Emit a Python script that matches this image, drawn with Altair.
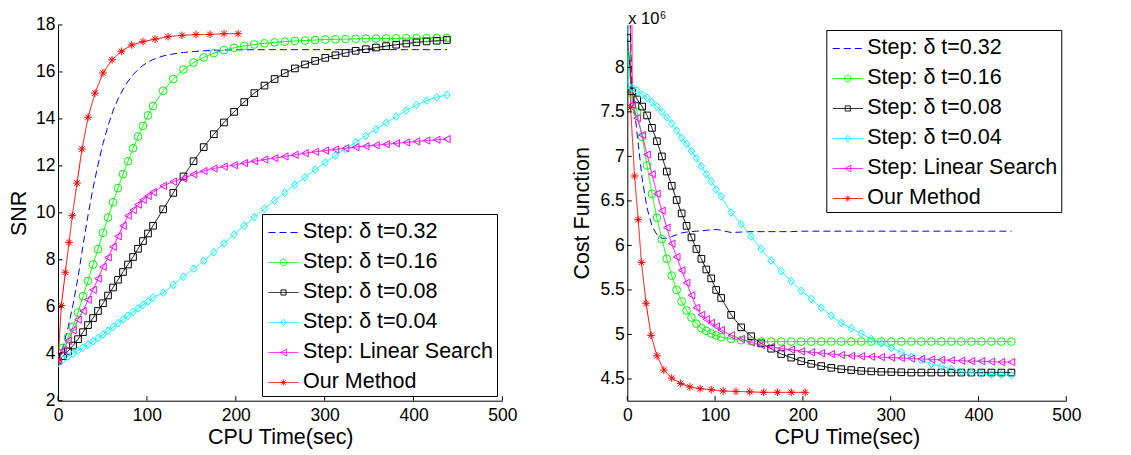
import altair as alt
import pandas as pd

F = "Liberation Sans"

NAMES = ["Step: δ t=0.32", "Step: δ t=0.16", "Step: δ t=0.08",
         "Step: δ t=0.04", "Step: Linear Search", "Our Method"]
COLORS = ["#0000ff", "#00ff00", "#000000", "#00ffff", "#ff00ff", "#ff0000"]
DASHES = [[7, 4], [1, 0], [1, 0], [1, 0], [1, 0], [1, 0]]

XTICKS = [0, 100, 200, 300, 400, 500]
SNR_TICKS = [2, 4, 6, 8, 10, 12, 14, 16, 18]
COST_TICKS = [4.5, 5, 5.5, 6, 6.5, 7, 7.5, 8]

# time stamps (sec) of the iterations
T_STEP = [0, 5.6, 11.25, 16.9, 22.5, 28.1, 33.75, 39.4, 45, 50.6, 56.25, 61.9,
          67.5, 73.1, 78.75, 84.4, 90, 95.6, 101.25, 106.9, 118.3, 129.7, 141.1,
          152.5, 163.9, 175.3, 186.7, 198.1, 209.5, 220.9, 232.3, 243.7, 255.1,
          266.5, 277.9, 289.3, 300.7, 312.1, 323.5, 334.9, 346.3, 357.7, 369.1,
          380.5, 391.9, 403.3, 414.7, 426.1, 437.5]
T_CYAN = [0, 0.8] + T_STEP[1:]
T_RED = [0, 3.75, 8.25, 12.4, 16.1, 21.4, 27, 33.8, 41.6, 50.6, 60.8, 71.3,
         82.9, 95.6, 109.2, 123.8, 139.5, 155.3, 171, 186.8, 202.6]

# SNR values
SNR_D32 = [3.7, 4.3, 5.1, 6.1, 7.25, 8.6, 9.9, 11.05, 12.05, 12.95, 13.7, 14.35,
           14.85, 15.25, 15.6, 15.88, 16.1, 16.28, 16.42, 16.53,
           16.68, 16.77, 16.83, 16.87, 16.9, 16.92, 16.93, 16.94, 16.94,
           16.95, 16.95, 16.95, 16.95, 16.95, 16.95, 16.95, 16.95, 16.95, 16.95,
           16.95, 16.95, 16.95, 16.95, 16.95, 16.95, 16.95, 16.95, 16.95, 16.95]
SNR_D16 = [3.7, 4.25, 4.7, 5.15, 5.75, 6.45, 7.1, 7.8, 8.45, 9.15, 9.8, 10.45,
           11.05, 11.65, 12.2, 12.75, 13.25, 13.7, 14.15, 14.55,
           15.2, 15.7, 16.1, 16.4, 16.62, 16.8, 16.93, 17.03, 17.11, 17.17,
           17.22, 17.26, 17.29, 17.32, 17.34, 17.36, 17.38, 17.39, 17.4, 17.41,
           17.42, 17.42, 17.43, 17.43, 17.44, 17.44, 17.44, 17.45, 17.45]
SNR_D08 = [3.7, 3.9, 4.1, 4.35, 4.62, 4.92, 5.22, 5.52, 5.82, 6.15, 6.48, 6.82,
           7.15, 7.48, 7.8, 8.12, 8.47, 8.8, 9.12, 9.45,
           10.15, 10.85, 11.55, 12.2, 12.8, 13.35, 13.85, 14.3, 14.72, 15.1,
           15.42, 15.7, 15.95, 16.15, 16.32, 16.47, 16.6, 16.71, 16.81, 16.9,
           16.97, 17.04, 17.1, 17.16, 17.21, 17.26, 17.3, 17.33, 17.36]
SNR_D04 = [3.6, 3.62, 3.75, 3.88, 4.0, 4.13, 4.26, 4.39, 4.53, 4.67, 4.82, 4.98,
           5.14, 5.3, 5.46, 5.62, 5.78, 5.93, 6.08, 6.23, 6.4,
           6.6, 6.93, 7.28, 7.62, 7.96, 8.32, 8.7, 9.08, 9.45, 9.82,
           10.18, 10.52, 10.86, 11.2, 11.52, 11.84, 12.14, 12.44, 12.72, 13.0,
           13.28, 13.56, 13.84, 14.1, 14.36, 14.6, 14.78, 14.92, 15.02]
SNR_LS = [3.7, 4.15, 4.55, 5.0, 5.45, 5.82, 6.3, 6.72, 7.2, 7.7, 8.1, 8.55,
          9.0, 9.45, 9.88, 10.12, 10.35, 10.55, 10.72, 10.88,
          11.15, 11.33, 11.46, 11.64, 11.78, 11.89, 11.97, 12.03, 12.12, 12.2,
          12.27, 12.33, 12.4, 12.47, 12.54, 12.6, 12.65, 12.7, 12.75, 12.8,
          12.84, 12.88, 12.92, 12.96, 13.0, 13.04, 13.08, 13.11, 13.14]
SNR_OURS = [3.7, 6.05, 7.47, 8.74, 9.88, 11.27, 12.72, 14.07, 15.1, 15.96, 16.52,
            16.88, 17.15, 17.29, 17.4, 17.5, 17.56, 17.59, 17.6, 17.63, 17.63]

# Cost function values (x 10^6)
COST_D32 = [9.5, 7.75, 7.25, 6.75, 6.42, 6.22, 6.12, 6.08, 6.08, 6.1, 6.12, 6.14,
            6.15, 6.155, 6.16, 6.165, 6.17, 6.175, 6.18, 6.17,
            6.145, 6.15, 6.155, 6.155, 6.155, 6.155, 6.155, 6.16, 6.16, 6.16,
            6.16, 6.16, 6.16, 6.16, 6.16, 6.16, 6.16, 6.16, 6.16, 6.16,
            6.16, 6.16, 6.16, 6.16, 6.16, 6.16, 6.16, 6.16, 6.16]
COST_D16 = [8.13, 7.7, 7.5, 7.22, 6.9, 6.58, 6.31, 6.07, 5.85, 5.66, 5.5, 5.37,
            5.27, 5.19, 5.12, 5.07, 5.04, 5.01, 4.99, 4.97,
            4.95, 4.935, 4.925, 4.92, 4.92, 4.92, 4.92, 4.92, 4.92, 4.92,
            4.92, 4.92, 4.92, 4.92, 4.92, 4.92, 4.92, 4.92, 4.92, 4.92,
            4.92, 4.92, 4.92, 4.92, 4.92, 4.92, 4.92, 4.92, 4.92]
COST_D08 = [8.33, 7.73, 7.64, 7.56, 7.46, 7.32, 7.17, 7.0, 6.83, 6.67, 6.51, 6.36,
            6.22, 6.09, 5.96, 5.85, 5.73, 5.63, 5.5, 5.41,
            5.22, 5.08, 4.98, 4.9, 4.84, 4.78, 4.74, 4.7, 4.67, 4.645,
            4.625, 4.61, 4.6, 4.59, 4.585, 4.58, 4.578, 4.575, 4.572, 4.572,
            4.572, 4.572, 4.572, 4.572, 4.572, 4.572, 4.572, 4.572, 4.572]
COST_D04 = [30, 7.8, 7.77, 7.74, 7.69, 7.66, 7.61, 7.56, 7.5, 7.44, 7.37, 7.29,
            7.21, 7.14, 7.06, 6.98, 6.89, 6.8, 6.72, 6.63, 6.55,
            6.37, 6.24, 6.1, 5.96, 5.83, 5.71, 5.6, 5.49, 5.4, 5.3,
            5.21, 5.13, 5.07, 5.01, 4.95, 4.9, 4.85, 4.8, 4.75, 4.71,
            4.67, 4.64, 4.61, 4.58, 4.57, 4.56, 4.55, 4.55, 4.54]
COST_LS = [30, 7.58, 7.43, 7.24, 7.02, 6.8, 6.58, 6.39, 6.2, 6.02, 5.87, 5.72,
           5.58, 5.44, 5.3, 5.22, 5.17, 5.13, 5.09, 5.05,
           4.99, 4.95, 4.91, 4.88, 4.86, 4.84, 4.83, 4.81, 4.8, 4.79,
           4.78, 4.77, 4.76, 4.755, 4.75, 4.745, 4.74, 4.735, 4.73, 4.725,
           4.72, 4.715, 4.71, 4.705, 4.7, 4.7, 4.695, 4.69, 4.69]
COST_OURS = [30, 7.55, 6.78, 6.29, 5.81, 5.35, 4.99, 4.76, 4.6, 4.51, 4.45, 4.41,
             4.39, 4.38, 4.365, 4.36, 4.355, 4.35, 4.35, 4.35, 4.35]

TIMES = [T_STEP, T_STEP, T_STEP, T_CYAN, T_STEP, T_RED]

# marker shapes for the plotted points (unit radius)
MARKERS = [
    "circle",
    "M-0.86,-0.86H0.86V0.86H-0.86Z",
    "M0,-1L0.83,0L0,1L-0.83,0Z",
    "M-0.85,0L0.85,-0.93L0.85,0.93Z",
    "M-1,0H1M0,-1V1M-0.7,-0.7L0.7,0.7M-0.7,0.7L0.7,-0.7",
]
# legend symbols: line segment plus marker (unit = half symbol width)
LLINE = "M-1,0H1"
LEG_PATHS = [
    LLINE,
    LLINE + "M0.22,0A0.22,0.22,0,1,1,-0.22,0A0.22,0.22,0,1,1,0.22,0Z",
    LLINE + "M-0.17,-0.17H0.17V0.17H-0.17Z",
    LLINE + "M0,-0.23L0.18,0L0,0.23L-0.18,0Z",
    LLINE + "M-0.2,0L0.2,-0.22L0.2,0.22Z",
    LLINE + "M-0.2,0H0.2M0,-0.2V0.2M-0.14,-0.14L0.14,0.14M-0.14,0.14L0.14,-0.14",
]


def long_df(values):
    rows = []
    for name, ts, vs in zip(NAMES, TIMES, values):
        for t, v in zip(ts, vs):
            rows.append({"series": name, "t": t, "v": v})
    return pd.DataFrame(rows)


def panel(values, ydom, yticks, ytitle, titlex, orient, w, h, extra=()):
    df = long_df(values)
    xs = alt.Scale(domain=[0, 500], nice=False, zero=False)
    ys = alt.Scale(domain=ydom, nice=False, zero=False)
    xaxis = alt.Axis(values=XTICKS, ticks=False, grid=False, domainColor="black",
                     domainWidth=1, labelFont=F, labelFontSize=17.5,
                     labelColor="black", labelPadding=6, labelFlush=False,
                     titleFont=F, titleFontSize=21.5, titleFontWeight="normal",
                     titleColor="black", titleY=37, titleBaseline="middle")
    yaxis = alt.Axis(values=yticks, format="~g", ticks=False, grid=False,
                     domainColor="black", domainWidth=1, labelFont=F,
                     labelFontSize=17.5, labelColor="black", labelPadding=3,
                     labelFlush=False,
                     titleFont=F, titleFontSize=21.5, titleFontWeight="normal",
                     titleColor="black", titleX=titlex, titleBaseline="middle")
    X = alt.X("t:Q", scale=xs, axis=xaxis, title="CPU Time(sec)")
    Y = alt.Y("v:Q", scale=ys, axis=yaxis, title=ytitle)
    cscale = alt.Scale(domain=NAMES, range=COLORS)
    dscale = alt.Scale(domain=NAMES, range=DASHES)

    lines = alt.Chart(df).mark_line(strokeWidth=1, clip=True).encode(
        x=X, y=Y,
        color=alt.Color("series:N", scale=cscale, legend=None),
        strokeDash=alt.StrokeDash("series:N", scale=dscale, legend=None),
    )
    points = alt.Chart(df).transform_filter(
        alt.datum.series != NAMES[0]
    ).mark_point(filled=False, opacity=1, strokeWidth=1, size=60, clip=True).encode(
        x=X, y=Y,
        color=alt.Color("series:N", scale=cscale, legend=None),
        shape=alt.Shape("series:N", scale=alt.Scale(domain=NAMES[1:], range=MARKERS),
                        legend=None),
    )
    leg = alt.Legend(title=None, orient=orient, offset=5, padding=3,
                     symbolOffset=3, labelOffset=4, labelFont=F,
                     labelFontSize=21.5, labelColor="black", labelLimit=400,
                     symbolSize=900, symbolStrokeWidth=1, rowPadding=4,
                     strokeColor="black", fillColor="white")
    legdf = pd.DataFrame({"series": NAMES, "t": [float("nan")] * 6,
                          "v": [float("nan")] * 6})
    legend_layer = alt.Chart(legdf).mark_point(
        filled=False, opacity=1, strokeWidth=1, size=900).encode(
        x=X, y=Y,
        color=alt.Color("series:N", scale=cscale, legend=leg),
        shape=alt.Shape("series:N", scale=alt.Scale(domain=NAMES, range=LEG_PATHS),
                        legend=leg),
        strokeDash=alt.StrokeDash("series:N", scale=dscale, legend=leg),
    )
    xt = alt.Chart(pd.DataFrame({"t": XTICKS})).mark_rule(
        color="black", strokeWidth=1).encode(
        x=X, y=alt.value(h), y2=alt.value(h - 4.5))
    yt = alt.Chart(pd.DataFrame({"v": yticks})).mark_rule(
        color="black", strokeWidth=1).encode(
        y=Y, x=alt.value(0), x2=alt.value(4.5))
    layers = [lines, points, legend_layer, xt, yt] + list(extra)
    return alt.layer(*layers).resolve_scale(
        color="independent", shape="independent", strokeDash="independent"
    ).properties(width=w, height=h)


one = pd.DataFrame({"a": [0]})
exp_base = alt.Chart(one).mark_text(
    text="x 10", align="left", baseline="alphabetic", font=F, fontSize=16.5,
    color="black").encode(x=alt.value(1), y=alt.value(-1.3))
exp_sup = alt.Chart(one).mark_text(
    text="6", align="left", baseline="alphabetic", font=F, fontSize=10,
    color="black").encode(x=alt.value(33), y=alt.value(-6))

H = 375.7
left = panel([SNR_D32, SNR_D16, SNR_D08, SNR_D04, SNR_LS, SNR_OURS],
             [2, 18], SNR_TICKS, "SNR", -38.5, "bottom-right", 444.4, H)
right = panel([COST_D32, COST_D16, COST_D08, COST_D04, COST_LS, COST_OURS],
              [4.256, 8.476], COST_TICKS, "Cost Function", -44.5, "top-right",
              439, H, extra=[exp_base, exp_sup])

chart = alt.hconcat(left, right, spacing=124.3, bounds="flush").resolve_scale(
    color="independent", shape="independent", strokeDash="independent",
    x="independent", y="independent"
).resolve_legend(
    color="independent", shape="independent", strokeDash="independent"
).properties(
    padding={"left": 0, "top": 2, "right": 4, "bottom": 4},
    background="white",
).configure_view(stroke=None)

chart.save("out.html", embed_options={"renderer": "svg", "actions": False})
